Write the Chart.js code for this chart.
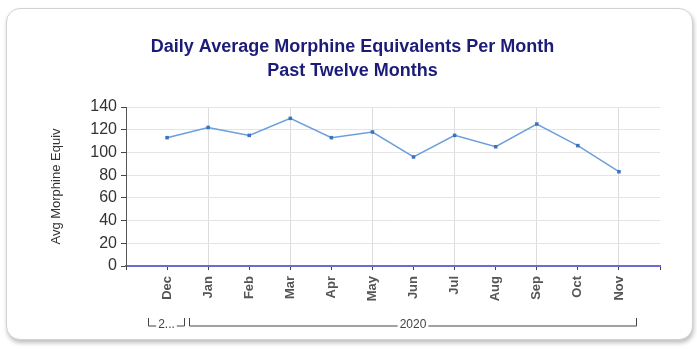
<!DOCTYPE html>
<html>
<head>
<meta charset="utf-8">
<script src="https://cdn.jsdelivr.net/npm/chart.js@4.4.0/dist/chart.umd.min.js"></script>
<style>
  html, body { margin: 0; padding: 0; background: #fff; }
  #wrap { position: relative; width: 697px; height: 350px; overflow: hidden; }
  #frame {
    position: absolute; left: 6px; top: 8px; width: 685px; height: 330px;
    border: 1px solid #d2d2d2; border-radius: 14px;
    box-shadow: 1px 3px 4px rgba(0,0,0,0.25);
    background: #fff;
  }
  #chart { position: absolute; left: 0; top: 0; }
</style>
</head>
<body>
<div id="wrap">
  <div id="frame"></div>
  <canvas id="chart" width="697" height="350"></canvas>
</div>
<script>
// data
const months = ['Dec', 'Jan', 'Feb', 'Mar', 'Apr', 'May', 'Jun', 'Jul', 'Aug', 'Sep', 'Oct', 'Nov'];
const years = ['2019', '2020', '2020', '2020', '2020', '2020', '2020', '2020', '2020', '2020', '2020', '2020'];
const avgMorphine = [113, 122, 115, 130, 113, 118, 96, 115, 105, 125, 106, 83];
const yTicks = [0, 20, 40, 60, 80, 100, 120, 140];

// one empty slot at each end, like the original axis
const labels = [''].concat(months, ['']);
const values = [null].concat(avgMorphine, [null]);

// second level of the x axis: year brackets
const yearBrackets = {
  id: 'yearBrackets',
  afterDraw(chart) {
    const ctx = chart.ctx;
    const x = chart.scales.x;
    // group consecutive months by year
    const groups = [];
    years.forEach((y, i) => {
      const last = groups[groups.length - 1];
      if (last && last.year === y) last.end = i;
      else groups.push({ year: y, start: i, end: i });
    });
    const yTop = 318, yBot = 326;
    ctx.save();
    ctx.strokeStyle = '#444';
    ctx.fillStyle = '#444';
    ctx.lineWidth = 1;
    ctx.font = '12px "Liberation Sans", Arial, sans-serif';
    ctx.textBaseline = 'middle';
    ctx.textAlign = 'center';
    groups.forEach(g => {
      const left = Math.round(x.getPixelForValue(g.start + 1) - 19) + 0.5;
      const right = Math.round(x.getPixelForValue(g.end + 1) + 17) + 0.5;
      let text = g.year;
      const room = right - left - 16;
      if (ctx.measureText(text).width > room) text = text[0] + '...';
      const w = ctx.measureText(text).width;
      const mid = (left + right) / 2;
      ctx.beginPath();
      ctx.moveTo(left, yTop);
      ctx.lineTo(left, yBot);
      ctx.lineTo(Math.max(left, mid - w / 2 - 2), yBot);
      ctx.moveTo(Math.min(right, mid + w / 2 + 2), yBot);
      ctx.lineTo(right, yBot);
      ctx.lineTo(right, yTop);
      ctx.stroke();
      ctx.fillText(text, mid, yBot - 1);
    });
    ctx.restore();
  }
};

const ctx = document.getElementById('chart').getContext('2d');
const chart = new Chart(ctx, {
  type: 'line',
  data: {
    labels: labels,
    datasets: [{
      data: values,
      borderColor: '#6a9fdc',
      borderWidth: 1.5,
      pointStyle: 'rect',
      pointRadius: 2.5,
      pointBackgroundColor: '#3f72bd',
      pointBorderColor: '#3f72bd',
      pointBorderWidth: 0,
      tension: 0
    }]
  },
  options: {
    responsive: false,
    animation: false,
    layout: { padding: { left: 45, right: 37, top: 0, bottom: 0 } },
    plugins: {
      legend: { display: false },
      tooltip: { enabled: false },
      title: {
        display: true,
        text: ['Daily Average Morphine Equivalents Per Month', 'Past Twelve Months'],
        color: '#1c1c78',
        font: { family: '"Liberation Sans", Arial, sans-serif', size: 18, weight: 'bold', lineHeight: 24 / 18 },
        padding: { top: 35, bottom: 24 }
      }
    },
    scales: {
      x: {
        offset: false,
        afterFit(scale) { scale.height = 84; },
        border: { color: '#6b6bd0', width: 2 },
        grid: {
          color: c => (c.index >= 2 && c.index <= 12 && c.index % 2 === 0) ? '#dcdcdc' : 'rgba(0,0,0,0)',
          tickColor: '#444',
          tickLength: 4
        },
        ticks: {
          autoSkip: false,
          maxRotation: 90,
          minRotation: 90,
          padding: 6,
          color: '#555',
          font: { family: '"Liberation Sans", Arial, sans-serif', size: 13, weight: 'bold' }
        }
      },
      y: {
        min: yTicks[0],
        max: yTicks[yTicks.length - 1],
        afterFit(scale) { scale.width = 81; },
        afterBuildTicks(scale) { scale.ticks = yTicks.map(v => ({ value: v })); },
        border: { color: '#555', width: 1 },
        grid: { color: '#e4e4e4', tickColor: '#444', tickLength: 5 },
        ticks: {
          padding: 4,
          color: '#333',
          font: { family: '"Liberation Sans", Arial, sans-serif', size: 16 }
        },
        title: {
          display: true,
          text: 'Avg Morphine Equiv',
          color: '#333',
          padding: { top: 4, bottom: 0 },
          font: { family: '"Liberation Sans", Arial, sans-serif', size: 13 }
        }
      }
    }
  },
  plugins: [yearBrackets]
});
</script>
</body>
</html>
